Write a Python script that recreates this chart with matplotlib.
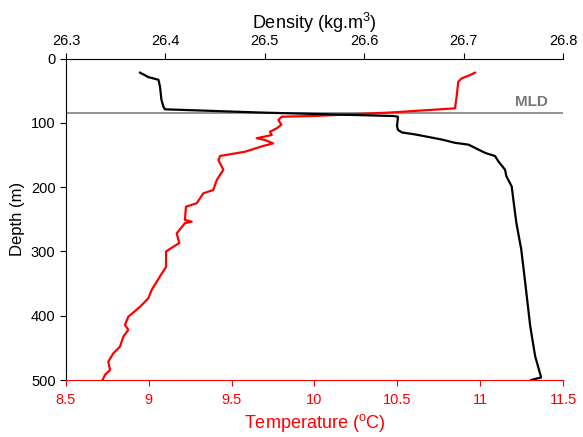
import matplotlib
matplotlib.use("Agg")
import matplotlib.pyplot as plt
from matplotlib.ticker import FuncFormatter

plt.rcParams['font.family'] = ['Liberation Sans', 'DejaVu Sans']
plt.rcParams['mathtext.default'] = 'regular'

# Density profile (top axis)
dens_depth = [22, 29, 33, 44, 64, 75, 79, 84, 89.4, 90.5, 105, 111, 115, 118, 126,
              131, 134, 147, 151.6, 160, 173, 183, 199, 219, 255, 297, 349, 416, 463, 496, 500]
density = [26.3745, 26.383, 26.393, 26.3946, 26.396, 26.398, 26.3996, 26.495, 26.629, 26.634,
           26.633, 26.634, 26.638, 26.651, 26.678, 26.691, 26.705, 26.722, 26.7316, 26.735,
           26.7417, 26.743, 26.7484, 26.75, 26.753, 26.758, 26.762, 26.767, 26.772, 26.778, 26.768]

# Temperature profile (bottom axis)
temp_depth = [22, 25.7, 31, 36, 59, 77.5, 84, 89.4, 90.5, 95.6, 103, 108.6, 113.8, 119, 124,
              126.7, 132, 136, 145, 151.6, 158, 173, 189, 204.5, 209.6, 225, 230.5, 251,
              253.8, 256, 272, 287, 292.7, 300, 324, 339, 360, 373, 386, 401.6, 414, 422,
              432.6, 448, 458.5, 471.5, 484.5, 492, 500]
temperature = [10.969, 10.939, 10.888, 10.868, 10.858, 10.848, 10.456, 9.993, 9.802, 9.782,
               9.80, 9.772, 9.731, 9.742, 9.651, 9.701, 9.751, 9.69, 9.58, 9.43, 9.42, 9.45,
               9.41, 9.389, 9.329, 9.289, 9.224, 9.218, 9.259, 9.218, 9.168, 9.184, 9.148,
               9.104, 9.104, 9.067, 9.017, 8.997, 8.947, 8.876, 8.856, 8.876, 8.846, 8.826,
               8.786, 8.755, 8.766, 8.735, 8.721]

mld = 85
temp_ticks = [8.5, 9, 9.5, 10, 10.5, 11, 11.5]
dens_ticks = [26.3, 26.4, 26.5, 26.6, 26.7, 26.8]
depth_ticks = [0, 100, 200, 300, 400, 500]

fig = plt.figure(figsize=(5.83, 4.37), dpi=100)
ax = fig.add_axes([0.1132, 0.1304, 0.8525, 0.7357])

ax.plot(temperature, temp_depth, color='red', lw=1.6, zorder=2)
ax.axhline(mld, color='#808080', lw=1.2, zorder=1)
ax.text(11.41, mld - 6, 'MLD', color='#777777', fontsize=11, fontweight='bold',
        ha='right', va='bottom')

ax.set_xlim(8.5, 11.5)
ax.set_ylim(500, 0)
ax.set_xticks(temp_ticks)
ax.set_yticks(depth_ticks)
ax.xaxis.set_major_formatter(FuncFormatter(lambda v, p: '%g' % v))
ax.tick_params(axis='x', colors='red', labelsize=10.5, length=4, pad=5)
ax.tick_params(axis='y', labelsize=10.5, length=4)
ax.set_xlabel('Temperature ($^o$C)', color='red', fontsize=13, labelpad=4)
ax.set_ylabel('Depth (m)', fontsize=12)
ax.spines['bottom'].set_color('red')
ax.spines['right'].set_visible(False)
ax.spines['top'].set_visible(False)

ax2 = ax.twiny()
ax2.plot(density, dens_depth, color='black', lw=1.6, zorder=3)
ax2.set_xlim(26.3, 26.8)
ax2.set_xticks(dens_ticks)
ax2.xaxis.set_major_formatter(FuncFormatter(lambda v, p: '%g' % v))
ax2.tick_params(axis='x', labelsize=10.5, length=4)
ax2.set_xlabel('Density (kg.m$^3$)', fontsize=13, labelpad=4)
ax2.spines['right'].set_visible(False)
ax2.spines['bottom'].set_visible(False)
ax2.spines['left'].set_visible(False)
ax2.set_ylim(500, 0)

fig.savefig('out.png', dpi=100)
